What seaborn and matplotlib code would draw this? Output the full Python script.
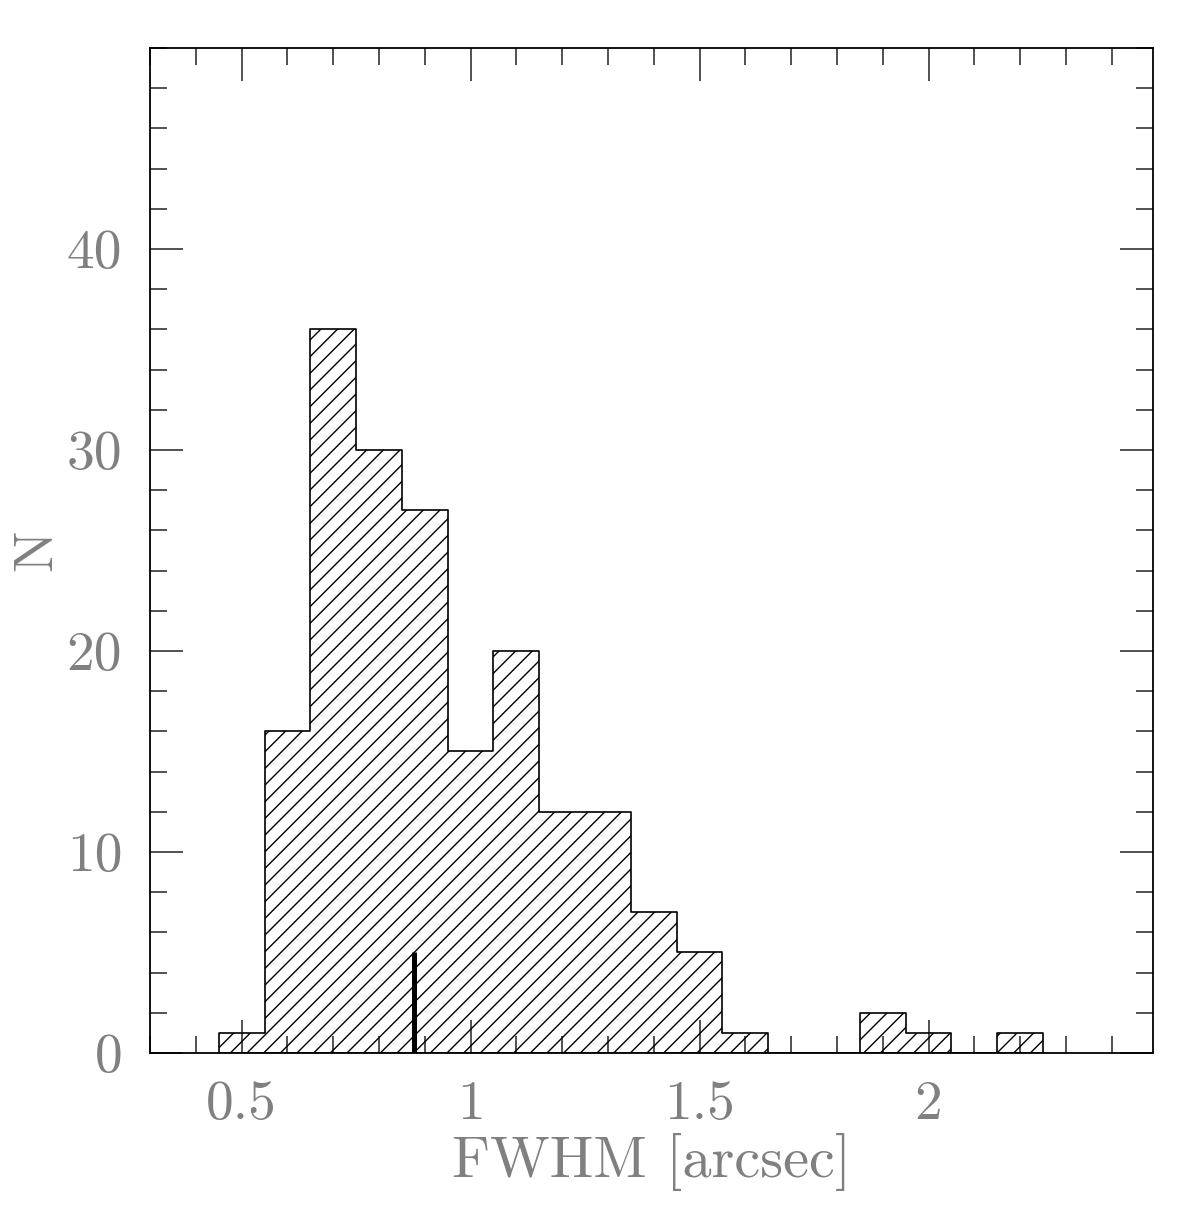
import numpy as np
import pandas as pd
import matplotlib
matplotlib.use("Agg")
import matplotlib.pyplot as plt
import seaborn as sns
from matplotlib.ticker import MultipleLocator

# ---------------------------
# Data
# ---------------------------
bin_edges = [0.45, 0.55, 0.65, 0.75, 0.85, 0.95, 1.05, 1.15, 1.25, 1.35,
             1.45, 1.55, 1.65, 1.75, 1.85, 1.95, 2.05, 2.15, 2.25]
counts = [1, 16, 36, 30, 27, 15, 20, 12, 12, 7, 5, 1, 0, 0, 2, 1, 0, 1]
median_fwhm = 0.877
median_height = 5

sns.set_style("ticks")
plt.rcParams["font.family"] = ["cmr10", "DejaVu Serif"]
plt.rcParams["axes.formatter.use_mathtext"] = True
plt.rcParams["hatch.linewidth"] = 1.0

text_gray = "#808080"

centers = [(a + b) / 2 for a, b in zip(bin_edges[:-1], bin_edges[1:])]
df = pd.DataFrame({"fwhm": centers, "n": counts})

fig = plt.figure(figsize=(12.03, 12.19), dpi=100)
ax = fig.add_axes([0.1247, 0.1362, 0.8337, 0.8244])

sns.histplot(data=df, x="fwhm", weights="n", bins=bin_edges, element="step",
             fill=True, color="black", linewidth=1.2, ax=ax)
for coll in ax.collections:
    coll.set_facecolor("none")
    coll.set_edgecolor("black")
    coll.set_hatch("//")
    coll.set_linewidth(1.2)

# median marker
ax.vlines(median_fwhm, 0, median_height, color="black", linewidth=3.6)

ax.set_xlim(0.3, 2.49)
ax.set_ylim(0, 50)
ax.xaxis.set_major_locator(MultipleLocator(0.5))
ax.xaxis.set_minor_locator(MultipleLocator(0.1))
ax.yaxis.set_major_locator(MultipleLocator(10))
ax.yaxis.set_minor_locator(MultipleLocator(2))
ax.set_xticks([0.5, 1, 1.5, 2])
ax.set_xticklabels(["0.5", "1", "1.5", "2"])
ax.set_yticks([0, 10, 20, 30, 40])
ax.set_yticklabels(["0", "10", "20", "30", "40"])

ax.tick_params(which="both", direction="in", top=True, right=True,
               color="#333333", width=1.2, labelcolor=text_gray, labelsize=40)
ax.tick_params(which="major", length=24, pad=20)
ax.tick_params(which="minor", length=12)
for sp in ax.spines.values():
    sp.set_linewidth(1.3)
    sp.set_color("black")
    sp.set_visible(True)

ax.set_xlabel("FWHM [arcsec]", fontsize=42, color=text_gray, labelpad=2)
ax.set_ylabel("N", fontsize=40, color=text_gray)
ax.yaxis.set_label_coords(-0.088, 0.5)

fig.savefig("out.png", dpi=100)
plt.close(fig)
